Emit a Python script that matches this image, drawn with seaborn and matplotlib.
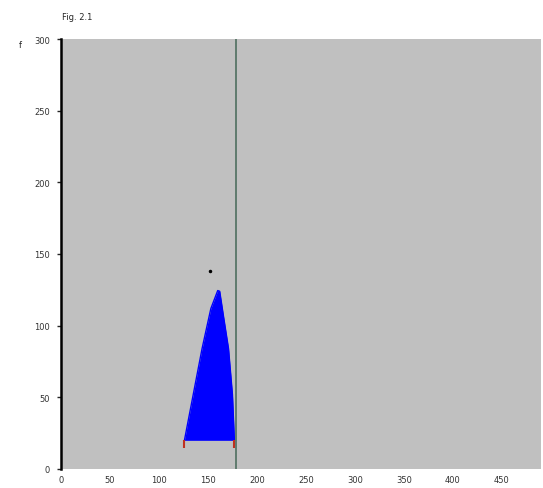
import matplotlib
matplotlib.use("Agg")
import matplotlib.pyplot as plt
import seaborn as sns
import pandas as pd

# data
curve_x = [126, 135, 144, 153, 160, 162, 166, 171, 175, 177]
curve_y = [20, 52, 84, 112, 124.5, 124, 106, 84, 52, 20]
base_level = 20
observed = 178.6
marker_point = (152, 138)
x_ticks = [0, 50, 100, 150, 200, 250, 300, 350, 400, 450]
y_ticks = [0, 50, 100, 150, 200, 250, 300]
title = "Fig. 2.1"
ylabel = "f"

sns.set_theme(style="white")
plt.rcParams["font.family"] = ["DejaVu Sans"]

fig = plt.figure(figsize=(5.43, 4.89), dpi=100)
ax = fig.add_axes([61 / 543, 19 / 489, 480 / 543, 430 / 489])
ax.set_facecolor("#c0c0c0")

df = pd.DataFrame({"x": curve_x, "y": curve_y})
sns.lineplot(data=df, x="x", y="y", ax=ax, color="#0000ff", lw=1, sort=False)
ax.fill_between(curve_x, base_level, curve_y, color="#0000ff", lw=0)
ax.vlines([curve_x[0], curve_x[-1]], base_level - 5, base_level, color="#c03020", lw=1.5)
ax.axvline(observed, color="#4f6f5f", lw=1.2)
ax.plot([marker_point[0]], [marker_point[1]], marker=".", color="black", ms=3)

ax.set_xlim(0, 490)
ax.set_ylim(0, 300)
ax.set_xticks(x_ticks)
ax.set_yticks(y_ticks)
ax.tick_params(axis="x", length=0, labelsize=6, pad=4, labelcolor="#333333")
ax.tick_params(axis="y", length=3, width=1, labelsize=6, left=True, pad=5, labelcolor="#333333")
ax.set_xlabel("")
ax.set_ylabel("")
for s in ["top", "right", "bottom"]:
    ax.spines[s].set_visible(False)
ax.spines["left"].set_color("black")
ax.spines["left"].set_linewidth(1.8)

fig.text(62 / 543, 1 - 17 / 489, title, fontsize=6, va="center", ha="left")
fig.text(20 / 543, 1 - 45 / 489, ylabel, fontsize=6, va="center", ha="center")

fig.savefig("out.png", dpi=100)
